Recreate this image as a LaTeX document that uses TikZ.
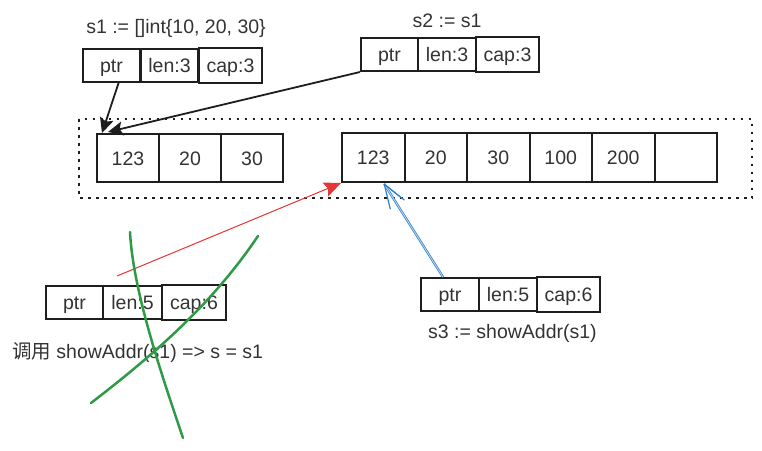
\documentclass[tikz,border=0pt]{standalone}
\usepackage{fontspec}
\setmainfont{Liberation Sans}
\newfontfamily\cjk{Noto Sans CJK SC}
\usetikzlibrary{arrows.meta,calc}
\definecolor{txt}{HTML}{333333}
\definecolor{bord}{HTML}{1E1E1E}
\definecolor{myred}{HTML}{E53535}
\definecolor{myblue}{HTML}{2F7FD0}
\definecolor{mygreen}{HTML}{2E9A45}
\begin{document}
\begin{tikzpicture}[x=1pt,y=-1pt,
  every node/.style={font=\fontsize{19.5}{22}\selectfont, text=txt},
  cellbox/.style={draw=bord, line width=2pt, minimum height=33pt, inner sep=0pt, text depth=0pt, text height=14pt},
  arrcell/.style={draw=bord, line width=2pt, minimum width=62pt, minimum height=48pt, inner sep=0pt, text depth=0pt, text height=14pt},
  lbl/.style={inner sep=0pt},
  blackarrow/.style={draw=bord, line width=1.8pt, -{Stealth[length=15pt,width=14pt,inset=3pt]}},
  redarrow/.style={draw=myred, line width=1pt, -{Stealth[length=17pt,width=15pt,inset=3pt]}},
  greenstroke/.style={draw=mygreen, line width=2.5pt, line cap=round}
]
\useasboundingbox (0,0) rectangle (762,450);

% dotted memory region
\draw[bord, line width=2pt, dash pattern=on 2.5pt off 5.5pt] (79,119) rectangle (752,198);

% array 1
\node[arrcell] (a1) at (128,158) {123};
\node[arrcell] (a2) at (190,158) {20};
\node[arrcell] (a3) at (252,158) {30};

% array 2
\node[arrcell, minimum width=62.5pt, minimum height=49pt] (b1) at (373.25,157.5) {123};
\node[arrcell, minimum width=62.5pt, minimum height=49pt] (b2) at (435.75,157.5) {20};
\node[arrcell, minimum width=62.5pt, minimum height=49pt] (b3) at (498.25,157.5) {30};
\node[arrcell, minimum width=62.5pt, minimum height=49pt] (b4) at (560.75,157.5) {100};
\node[arrcell, minimum width=62.5pt, minimum height=49pt] (b5) at (623.25,157.5) {200};
\node[arrcell, minimum width=62.5pt, minimum height=49pt] (b6) at (685.75,157.5) {};

% s1 header
\node[lbl] (s1lbl) at (176,28) {s1 := []int\{10, 20, 30\}};
\node[cellbox, minimum width=57pt] (s1ptr) at (111.5,65.5) {ptr};
\node[cellbox, minimum width=57pt] (s1len) at (169.5,65.5) {len:3};
\node[cellbox, minimum width=63pt, minimum height=35pt] (s1cap) at (230.5,65.5) {cap:3};

% s2 header
\node[lbl] (s2lbl) at (447,21) {s2 := s1};
\node[cellbox, minimum width=57pt] (s2ptr) at (389.5,54.5) {ptr};
\node[cellbox, minimum width=58pt] (s2len) at (447,54.5) {len:3};
\node[cellbox, minimum width=63pt, minimum height=35pt] (s2cap) at (507.5,54.5) {cap:3};

% function arg header
\node[cellbox, minimum width=57pt] (fptr) at (74.5,302.5) {ptr};
\node[cellbox, minimum width=59pt] (flen) at (132.5,302.5) {len:5};
\node[cellbox, minimum width=64pt, minimum height=35pt] (fcap) at (194,302.5) {cap:6};
\node[lbl] (flbl) at (137.5,353) {{\cjk 调用} showAddr(s1) => s = s1};

% s3 header
\node[cellbox, minimum width=58pt] (s3ptr) at (450,294.5) {ptr};
\node[cellbox, minimum width=58pt] (s3len) at (508,294.5) {len:5};
\node[cellbox, minimum width=63pt, minimum height=35pt] (s3cap) at (568.5,294.5) {cap:6};
\node[lbl] (s3lbl) at (512.5,333) {s3 := showAddr(s1)};

% black arrows
\draw[blackarrow] (s1ptr.292) -- ($(a1.north west)+(6,0)$);
\draw[blackarrow] (s2ptr.south west) -- ($(a1.north west)+(12,-1)$);

% red arrow
\coordinate (redstart) at (117,276);
\draw[redarrow] (redstart) -- (b1.south west);

% blue arrow (sketchy double stroke, open head)
\coordinate (bluestart) at ($(s3ptr.north west)+(23,0)$);
\coordinate (bluetip) at ($(b1.south)+(11,1)$);
\draw[myblue, line width=0.7pt, double=myblue!35!white, double distance=0.9pt] (bluestart) -- (bluetip);
\draw[myblue, line width=1.2pt, line cap=round] (bluetip) -- ++(6,25);
\draw[myblue, line width=1.2pt, line cap=round] (bluetip) -- ++(20,16);
\draw[myblue, line width=0.8pt, line cap=round] ($(bluetip)+(1,1)$) -- ++(16,13);

% green cross-out strokes
\draw[greenstroke] (130,232) .. controls (133,290) and (160,370) .. (183,438);
\draw[greenstroke] (258,236) .. controls (215,300) and (160,350) .. (91,403);
\end{tikzpicture}
\end{document}
